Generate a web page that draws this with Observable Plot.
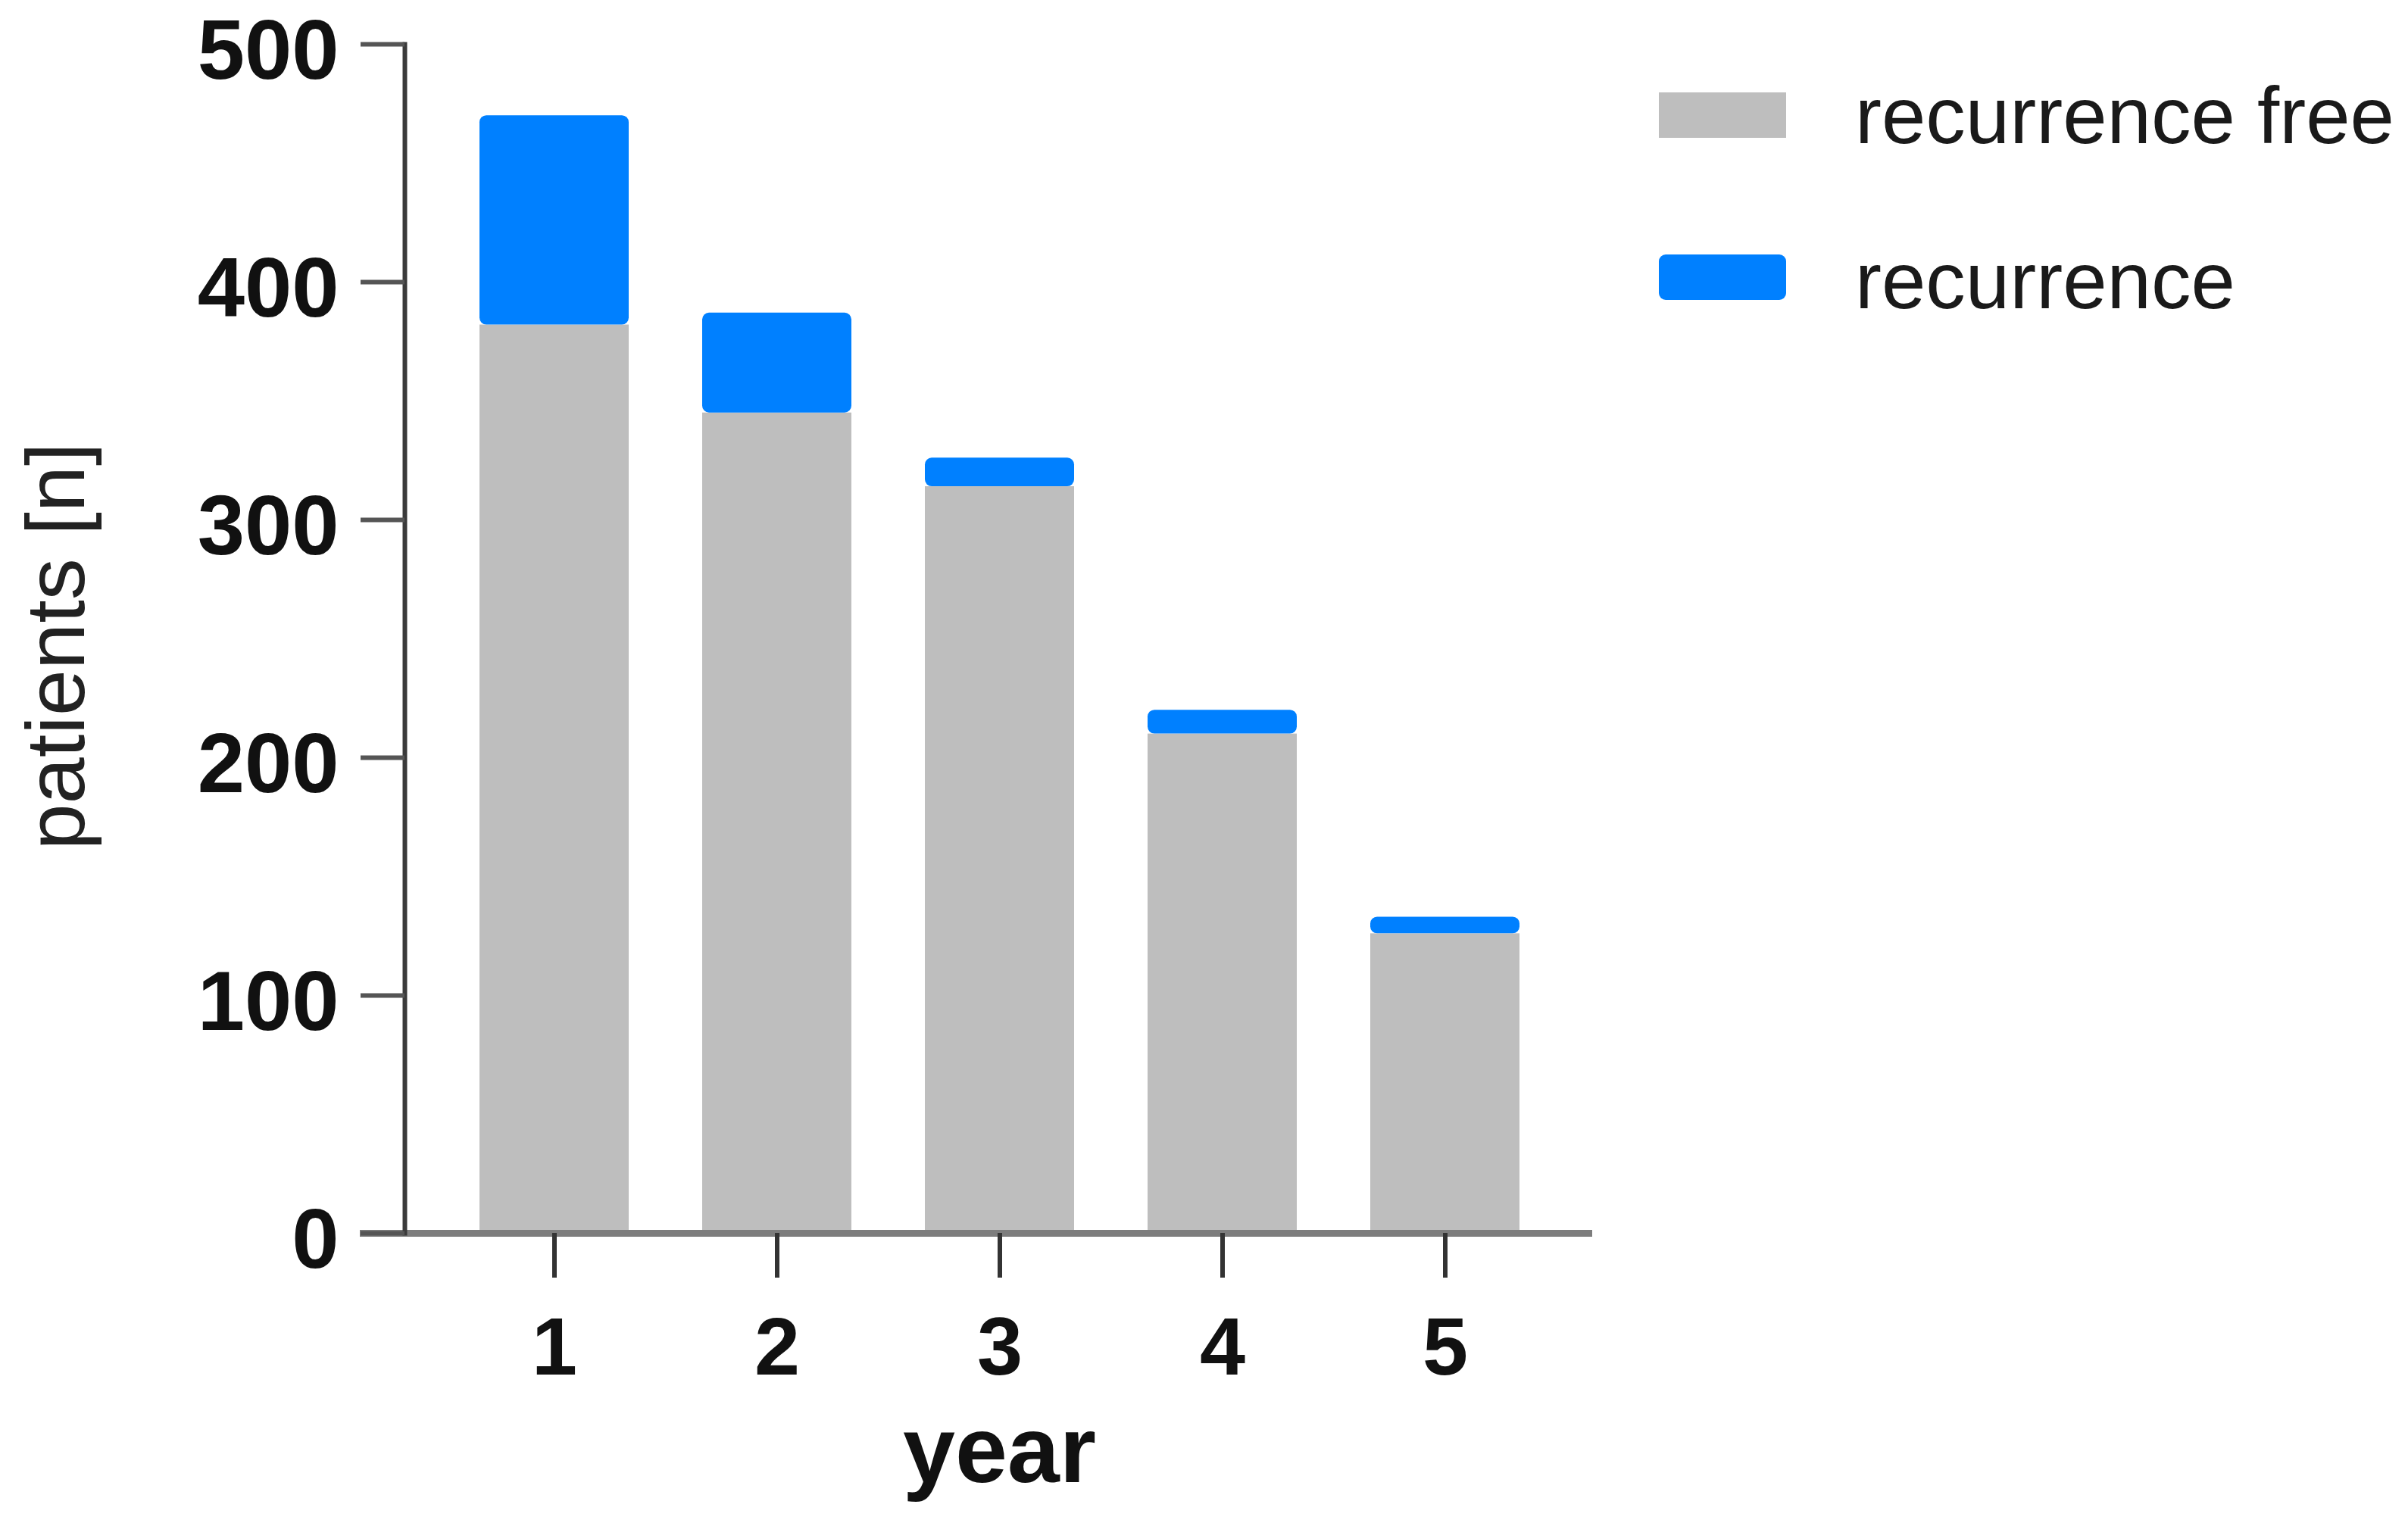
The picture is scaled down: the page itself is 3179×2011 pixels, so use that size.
<!DOCTYPE html>
<html>
<head>
<meta charset="utf-8">
<script src="https://cdn.jsdelivr.net/npm/d3@7"></script>
<script src="https://cdn.jsdelivr.net/npm/@observablehq/plot@0.6"></script>
<style>
  html, body { margin: 0; padding: 0; background: #ffffff; }
  #wrap { position: relative; width: 3179px; height: 2011px; background: #ffffff; overflow: hidden; }
  .lg-swatch { position: absolute; }
  .lg-text { position: absolute; font-family: "Liberation Sans", Arial, Helvetica, sans-serif; font-size: 105px; line-height: 106px; color: #1a1a1a; white-space: nowrap; }
</style>
</head>
<body>
<div id="wrap"></div>
<script>
// ---- data ----
const years = [1, 2, 3, 4, 5];
const recurrenceFree = [382, 345, 314, 210, 126];
const recurrence = [88, 42, 12, 10, 7];
const seriesNames = ["recurrence free", "recurrence"];
const seriesColors = ["#bebebe", "#0080ff"];
const yTicks = [0, 100, 200, 300, 400, 500];
const xLabel = "year";
const yLabel = "patients [n]";

// table built from the arrays
const rows = years.map((year, i) => ({
  year,
  free: recurrenceFree[i],
  total: recurrenceFree[i] + recurrence[i]
}));

const font = "'Liberation Sans', Arial, Helvetica, sans-serif";

const chart = Plot.plot({
  width: 3179,
  height: 2011,
  marginLeft: 534,
  marginRight: 1075,
  marginTop: 58,
  marginBottom: 383,
  style: { fontFamily: font, fontSize: "112px", color: "#111", background: "#ffffff", overflow: "visible" },
  x: { type: "band", domain: years, padding: 0.33, label: null },
  y: { domain: [0, 500], label: null },
  marks: [
    Plot.barY(rows, { x: "year", y: "free", fill: seriesColors[0] }),
    Plot.barY(rows, { x: "year", y1: "free", y2: "total", fill: seriesColors[1], rx: 9 }),
    Plot.ruleY([0], { stroke: "#7d7d7d", strokeWidth: 9, insetLeft: -59, insetRight: 2 }),
    Plot.frame({ anchor: "left", stroke: "#3a3a3a", strokeWidth: 6 }),
    // y tick marks only
    Plot.axisY({ ticks: yTicks, tickSize: 58, tickFormat: () => "", stroke: "#555", strokeWidth: 6, label: null }),
    // y tick labels only (slightly lowered, as in the reference)
    Plot.axisY({ ticks: yTicks, tickSize: 0, tickPadding: 87, fill: "#111", fontWeight: "bold",
                 fontSize: 112, dy: 10, label: null }),
    Plot.axisX({ tickSize: 59, tickPadding: 51, stroke: "#333", strokeWidth: 6,
                 fill: "#111", fontWeight: "bold", fontSize: 108, label: null }),
    Plot.text([xLabel], { frameAnchor: "bottom", dy: 328, lineAnchor: "bottom",
                 fontSize: 124, fontWeight: "bold", fill: "#111" }),
    Plot.text([yLabel], { frameAnchor: "left", rotate: -90, dx: -459, dy: 10,
                 textAnchor: "middle", lineAnchor: "middle", fontSize: 110, fill: "#222" })
  ]
});

const wrap = document.getElementById("wrap");
wrap.appendChild(chart);

// legend (HTML, placed to the right of the plot)
const legendTop = [122, 336];
const textTop = [100, 318];
seriesNames.forEach((name, i) => {
  const sw = document.createElement("div");
  sw.className = "lg-swatch";
  sw.style.left = "2190px";
  sw.style.top = legendTop[i] + "px";
  sw.style.width = "168px";
  sw.style.height = "60px";
  sw.style.background = seriesColors[i];
  sw.style.borderRadius = i === 1 ? "9px" : "0px";
  wrap.appendChild(sw);
  const tx = document.createElement("div");
  tx.className = "lg-text";
  tx.style.left = "2449px";
  tx.style.top = textTop[i] + "px";
  tx.textContent = name;
  wrap.appendChild(tx);
});
</script>
</body>
</html>
